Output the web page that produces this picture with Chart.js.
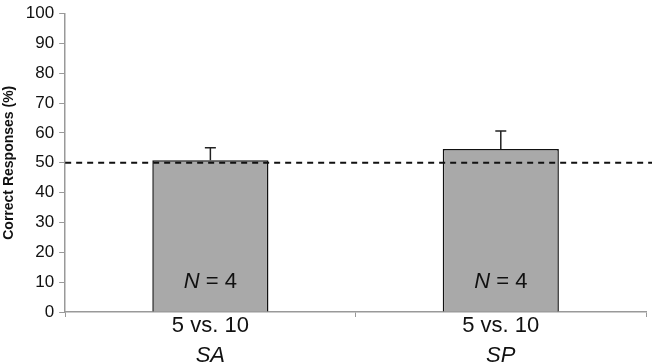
<!DOCTYPE html>
<html>
<head>
<meta charset="utf-8">
<script src="https://cdn.jsdelivr.net/npm/chart.js@4"></script>
<style>
  html, body { margin: 0; padding: 0; background: #fff; }
  #wrap { width: 654px; height: 363px; }
</style>
</head>
<body>
<div id="wrap"><canvas id="responsesChart"></canvas></div>
<script>
const comparisons = ['5 vs. 10', '5 vs. 10'];
const groups = ['SA', 'SP'];
const correctPct = [50.8, 54.6];
const errorPct = [4.2, 6.0];
const sampleSizes = [4, 4];
const chanceLevel = 50;

const FONT = '"Liberation Sans", Arial, sans-serif';

const barExtras = {
  id: 'barExtras',
  afterDatasetsDraw(chart) {
    const { ctx, chartArea, scales: { x, y } } = chart;
    ctx.save();

    // error bars (upper only)
    ctx.strokeStyle = '#222';
    ctx.lineWidth = 1.5;
    correctPct.forEach((v, i) => {
      const cx = x.getPixelForValue(i);
      const y0 = y.getPixelForValue(v);
      const y1 = y.getPixelForValue(v + errorPct[i]);
      ctx.beginPath();
      ctx.moveTo(cx, y0);
      ctx.lineTo(cx, y1);
      ctx.moveTo(cx - 5.5, y1);
      ctx.lineTo(cx + 5.5, y1);
      ctx.stroke();
    });

    // chance line
    const yc = y.getPixelForValue(chanceLevel);
    ctx.strokeStyle = '#111';
    ctx.lineWidth = 2;
    ctx.setLineDash([6, 5]);
    ctx.beginPath();
    ctx.moveTo(chartArea.left, yc);
    ctx.lineTo(chart.width - 2, yc);
    ctx.stroke();
    ctx.setLineDash([]);

    // N labels
    ctx.fillStyle = '#111';
    ctx.textBaseline = 'middle';
    ctx.textAlign = 'left';
    sampleSizes.forEach((n, i) => {
      const cx = x.getPixelForValue(i);
      const ty = y.getPixelForValue(10);
      const rest = ' = ' + n;
      ctx.font = 'italic 22px ' + FONT;
      const wN = ctx.measureText('N').width;
      ctx.font = '22px ' + FONT;
      const wR = ctx.measureText(rest).width;
      const start = cx - (wN + wR) / 2;
      ctx.font = 'italic 22px ' + FONT;
      ctx.fillText('N', start, ty);
      ctx.font = '22px ' + FONT;
      ctx.fillText(rest, start + wN, ty);
    });
    ctx.restore();
  }
};

new Chart(document.getElementById('responsesChart'), {
  type: 'bar',
  data: {
    labels: comparisons,
    datasets: [{
      data: correctPct,
      backgroundColor: '#a9a9a9',
      borderColor: '#111',
      borderWidth: 1.5,
      categoryPercentage: 0.8,
      barPercentage: 0.5
    }]
  },
  plugins: [barExtras],
  options: {
    responsive: true,
    maintainAspectRatio: false,
    animation: false,
    layout: { padding: { top: 0, right: 8, bottom: 0, left: 0 } },
    plugins: {
      legend: { display: false },
      tooltip: { enabled: false }
    },
    scales: {
      x: {
        afterFit: s => { s.height = 24; },
        grid: { drawOnChartArea: false, tickLength: 5, color: '#999' },
        border: { color: '#999', width: 1.5 },
        ticks: {
          color: '#111',
          padding: -2,
          font: { family: FONT, size: 22, lineHeight: 1 }
        }
      },
      x2: {
        type: 'category',
        labels: groups,
        position: 'bottom',
        afterFit: s => { s.height = 27; },
        grid: { display: false, drawTicks: false },
        border: { display: false },
        ticks: {
          color: '#111',
          padding: 9,
          font: { family: FONT, size: 22, style: 'italic', lineHeight: 1 }
        }
      },
      y: {
        min: 0,
        max: 100,
        ticks: {
          stepSize: 10,
          color: '#111',
          padding: 5,
          font: { family: FONT, size: 17, lineHeight: 1 }
        },
        grid: { drawOnChartArea: false, tickLength: 6, color: '#999' },
        border: { color: '#999', width: 1.5 },
        title: {
          display: true,
          text: 'Correct Responses (%)',
          color: '#111',
          padding: { top: 1, bottom: 3 },
          font: { family: FONT, size: 14, weight: 'bold' }
        }
      }
    }
  }
});
</script>
</body>
</html>
